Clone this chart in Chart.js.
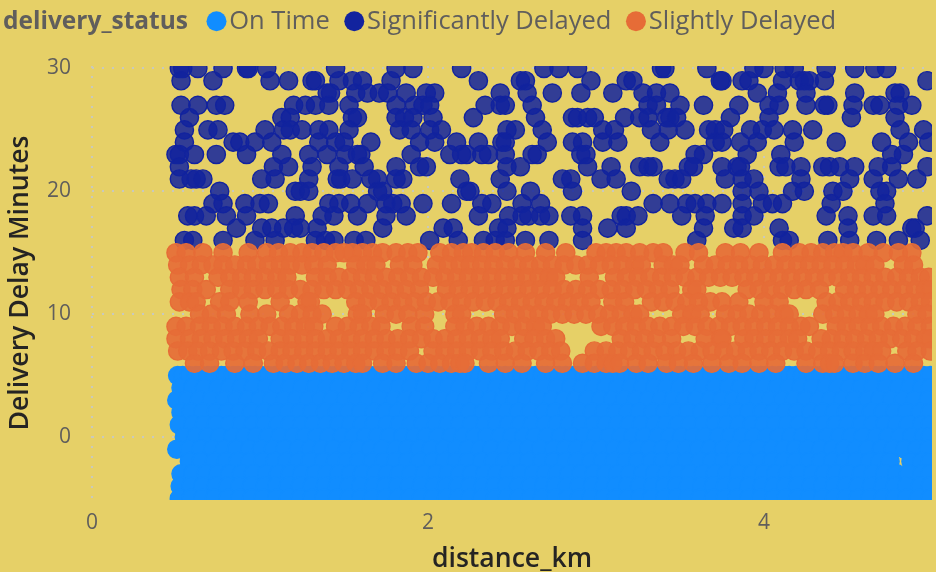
<!DOCTYPE html>
<html><head><meta charset="utf-8">
<style>
html,body{margin:0;padding:0;background:#E6D067;width:936px;height:572px;overflow:hidden}
#wrap{position:relative;width:936px;height:572px}
#ttl{position:absolute;left:3px;top:3px;font:700 24.5px "Open Sans",sans-serif;color:#605E5C;line-height:33px;white-space:nowrap}
</style>
<script src="https://cdn.jsdelivr.net/npm/chart.js@4"></script>
</head><body><div id="wrap"><canvas id="c" width="936" height="572"></canvas><div id="ttl">delivery_status</div></div>
<script>
const legendTitle="delivery_status";
const seriesNames=["On Time","Significantly Delayed","Slightly Delayed"];
const xTitle="distance_km", yTitle="Delivery Delay Minutes";
// Significantly Delayed: distance_km read per delay-minute row
const sd30=[.52,.54,.63,.78,.92,.93,1.04,1.45,1.81,1.91,2.20,2.69,2.78,2.89,3.39,3.41,3.66,3.94,4.0,4.12,4.18,4.37,4.54,4.66,4.73];
const sd29=[.53,.72,1.06,1.17,1.31,1.33,1.47,1.55,1.61,1.78,2.30,2.55,2.58,2.97,3.18,3.22,3.74,3.75,3.87,3.91,4.11,4.21,4.24,4.27,4.36,4.97];
const sd28=[1.40,1.42,1.57,1.64,1.71,1.76,1.87,1.99,2.04,2.43,2.59,2.74,2.91,3.10,3.28,3.36,3.44,3.96,4.08,4.25,4.54,4.78,4.81];
const sd27=[.53,.63,.74,.79,1.20,1.27,1.33,1.41,1.53,1.81,1.92,1.97,2.01,2.34,2.43,2.46,2.62,3.31,3.36,3.50,3.64,3.85,4.03,4.09,4.25,4.36,4.38,4.53,4.65,4.69,4.80,4.88];
const sd26=[.58,1.13,1.18,1.55,1.58,1.81,1.86,1.91,2.03,2.27,2.64,2.86,2.89,2.95,2.99,3.17,3.26,3.31,3.42,3.44,3.48,3.80,4.03,4.52,4.78];
const sd25=[.55,.69,.75,1.03,1.14,1.18,1.25,1.35,1.41,1.53,1.83,1.90,2.01,2.08,2.47,2.52,2.68,3.04,3.11,3.33,3.43,3.53,3.67,3.71,3.76,3.92,3.99,4.06,4.17,4.29,4.81,4.95];
const sd24=[.55,.84,.88,.97,1.07,1.35,1.45,1.50,1.66,1.95,2.04,2.17,2.30,2.44,2.46,2.71,2.86,2.92,3.04,3.13,3.38,3.71,3.75,3.86,3.96,4.18,4.43,4.70,4.86,4.98];
const sd23=[.50,.52,.61,.74,.92,1.13,1.29,1.40,1.51,1.58,1.60,1.90,2.13,2.20,2.23,2.32,2.36,2.46,2.62,2.65,2.91,2.94,3.59,3.64,3.90,4.10,4.76,4.83];
const sd22=[.52,1.08,1.17,1.31,1.47,1.62,1.81,1.95,1.99,2.47,2.55,2.95,3.09,3.26,3.31,3.34,3.55,3.58,3.75,3.84,3.86,4.09,4.13,4.22,4.35,4.39,4.45,4.54,4.68,4.76,4.97];
const sd21=[.52,.59,.62,.66,1.01,1.09,1.29,1.46,1.48,1.55,1.66,1.70,1.81,1.85,2.19,2.43,2.80,2.85,3.03,3.12,3.43,3.47,3.51,3.77,3.87,3.94,4.22,4.51,4.65,4.80,4.91];
const sd20=[.76,1.21,1.24,1.29,1.70,1.73,2.23,2.25,2.47,2.61,2.86,3.21,3.87,3.97,4.17,4.24,4.41,4.47,4.69,4.73];
const sd19=[.72,.78,.91,1.0,1.05,1.41,1.47,1.54,1.64,1.75,1.79,1.84,1.97,2.14,2.32,2.38,2.56,2.67,3.34,3.44,3.54,3.59,3.66,3.75,3.87,3.99,4.05,4.11,4.40,4.72];
const sd18=[.57,.61,.68,.80,.92,1.21,1.37,1.44,1.58,1.75,1.87,2.30,2.48,2.56,2.60,2.67,2.72,2.85,2.92,3.15,3.18,3.25,3.51,3.65,3.87,3.94,4.37,4.50,4.65,4.73,4.97];
const sd17=[.86,1.01,1.07,1.14,1.20,1.24,1.34,1.73,2.09,2.15,2.42,2.47,2.92,3.07,3.18,3.64,3.82,3.87,4.09,4.50,4.88,4.90];
const sd16=[.55,.60,.78,.97,1.09,1.33,1.39,1.44,1.56,1.63,2.01,2.18,2.33,2.40,2.46,2.58,2.72,2.92,3.60,4.11,4.15,4.38,4.51,4.67,4.80,4.93];
// Slightly Delayed
const sl15=[.50,.56,.66,.78,.93,1.04,1.11,1.18,1.25,1.31,1.38,1.45,1.50,1.55,1.61,1.67,1.73,1.81,1.88,1.94,2.07,2.14,2.21,2.26,2.33,2.40,2.48,2.58,2.70,2.82,3.0,3.06,3.12,3.18,3.26,3.34,3.40,3.53,3.61,3.77,3.86,3.97,4.11,4.21,4.28,4.35,4.42,4.47,4.53,4.62,4.71,4.80,4.88];
const sl14=[.51,.58,.65,.72,.78,.85,.92,.98,1.05,1.12,1.18,1.25,1.32,1.40,1.57,1.63,1.69,1.83,1.91,2.05,2.12,2.19,2.25,2.32,2.39,2.46,2.53,2.60,2.67,2.74,2.81,2.88,2.95,3.02,3.09,3.16,3.23,3.27,3.40,3.46,3.50,3.64,3.71,3.78,3.85,3.92,3.99,4.06,4.13,4.20,4.27,4.34,4.41,4.48,4.55,4.60,4.66,4.83,4.89];
const sl13=[.52,.61,.75,.82,.89,.96,1.03,1.10,1.16,1.33,1.40,1.47,1.54,1.61,1.68,1.75,1.82,1.89,1.96,2.03,2.10,2.17,2.24,2.31,2.38,2.45,2.52,2.59,2.66,2.72,2.76,2.96,3.11,3.18,3.25,3.32,3.39,3.46,3.53,3.60,3.67,3.74,3.81,3.88,3.95,4.02,4.09,4.16,4.23,4.30,4.37,4.44,4.51,4.58,4.65,4.72,4.79,4.86,4.93,4.98];
const sl12=[.53,.60,.68,.82,.89,.96,1.03,1.10,1.17,1.24,1.31,1.38,1.45,1.52,1.59,1.66,1.73,1.80,1.87,1.95,2.11,2.18,2.25,2.32,2.39,2.46,2.53,2.60,2.67,2.74,2.81,2.88,2.95,3.02,3.09,3.16,3.23,3.30,3.37,3.44,3.57,3.60,3.90,3.97,4.04,4.11,4.18,4.25,4.33,4.48,4.55,4.62,4.69,4.76,4.83,4.90,4.96,4.99];
const sl11=[.52,.58,.62,.76,.82,.93,1.12,1.28,1.30,1.57,1.64,1.71,1.78,1.85,1.92,1.99,2.06,2.13,2.20,2.27,2.34,2.41,2.48,2.55,2.62,2.69,2.76,2.83,2.90,2.97,3.10,3.17,3.33,3.40,3.47,3.54,3.61,3.68,3.75,3.85,4.0,4.09,4.37,4.44,4.51,4.58,4.65,4.72,4.79,4.86,4.93,4.99];
const sl10=[.64,.71,.80,.94,1.04,1.17,1.24,1.31,1.37,1.58,1.61,1.74,1.81,1.88,1.98,2.16,2.20,2.45,2.52,2.59,2.66,2.73,2.80,2.87,2.94,3.01,3.08,3.15,3.22,3.26,3.51,3.57,3.62,3.77,3.84,3.91,3.98,4.05,4.12,4.15,4.35,4.42,4.49,4.56,4.62,4.66,4.91,4.97];
const sl9=[.50,.56,.64,.71,.78,.85,.92,.99,1.06,1.13,1.20,1.27,1.32,1.45,1.52,1.59,1.66,1.72,1.90,1.98,2.16,2.22,2.29,2.36,2.43,2.50,2.57,2.64,2.68,3.03,3.10,3.17,3.24,3.31,3.38,3.45,3.52,3.59,3.66,3.73,3.80,3.87,3.94,4.01,4.08,4.15,4.22,4.27,4.43,4.49,4.56,4.63,4.70,4.77,4.84,4.91,4.99];
const sl8=[.50,.58,.65,.72,.79,.86,.93,.99,1.12,1.19,1.26,1.33,1.40,1.47,1.54,1.61,1.68,1.75,1.82,1.89,1.96,2.03,2.10,2.17,2.24,2.31,2.38,2.43,2.57,2.63,2.70,2.76,3.15,3.22,3.29,3.36,3.45,3.65,3.74,3.75,3.88,3.94,4.01,4.08,4.15,4.20,4.34,4.40,4.47,4.54,4.61,4.68,4.75,4.82,4.89,4.96,4.99];
const sl7=[.51,.57,.63,.70,.77,.84,.91,.98,1.05,1.12,1.19,1.26,1.33,1.40,1.47,1.54,1.61,1.68,1.75,1.82,1.89,2.03,2.10,2.17,2.24,2.31,2.38,2.45,2.52,2.59,2.66,2.73,2.79,2.99,3.06,3.13,3.20,3.27,3.34,3.41,3.48,3.55,3.62,3.69,3.76,3.83,3.90,3.97,4.04,4.11,4.18,4.25,4.32,4.39,4.46,4.53,4.60,4.65,4.70,4.85,4.91,4.99];
const sl6=[.61,.70,.85,.96,1.08,1.15,1.22,1.29,1.36,1.43,1.50,1.57,1.61,1.73,1.81,1.93,2.0,2.07,2.14,2.19,2.22,2.36,2.46,2.56,2.70,2.80,2.92,2.99,3.06,3.10,3.14,3.24,3.31,3.42,3.49,3.58,3.69,3.79,3.87,3.97,4.07,4.25,4.35,4.39,4.42,4.53,4.60,4.68,4.78,4.89];
// On Time
const ot5=[.51,.54,.58,.62,.65,.69,.73,.77,.80,.84,.87,.91,.94,.97,1.01,1.05,1.09,1.12,1.16,1.19,1.23,1.27,1.30,1.34,1.38,1.41,1.45,1.49,1.52,1.55,1.59,1.63,1.66,1.70,1.74,1.77,1.81,1.85,1.88,1.92,1.95,1.99,2.03,2.06,2.10,2.13,2.17,2.21,2.24,2.28,2.31,2.35,2.39,2.42,2.46,2.50,2.53,2.56,2.60,2.64,2.68,2.71,2.75,2.78,2.82,2.86,2.89,2.93,2.96,3.0,3.04,3.07,3.11,3.15,3.18,3.22,3.25,3.29,3.33,3.36,3.40,3.44,3.47,3.50,3.54,3.58,3.61,3.65,3.69,3.72,3.76,3.80,3.83,3.87,3.90,3.94,3.98,4.01,4.05,4.09,4.12,4.15,4.19,4.23,4.26,4.30,4.34,4.37,4.41,4.45,4.48,4.52,4.55,4.59,4.63,4.66,4.70,4.74,4.77,4.80,4.84,4.88,4.91,4.95,4.99];
const ot4=[.53,.60,.67,.75,.82,.89,.96,1.04,1.11,1.18,1.25,1.33,1.40,1.47,1.54,1.62,1.69,1.76,1.83,1.90,1.98,2.05,2.12,2.19,2.27,2.34,2.41,2.48,2.56,2.63,2.70,2.77,2.85,2.92,2.99,3.06,3.13,3.21,3.28,3.35,3.42,3.50,3.57,3.64,3.71,3.79,3.86,3.93,4.0,4.08,4.15,4.22,4.29,4.37,4.44,4.51,4.58,4.65,4.73,4.80,4.87,4.94,4.99];
const ot3=[.505,.57,.64,.71,.79,.86,.93,1.0,1.07,1.15,1.22,1.29,1.36,1.43,1.51,1.58,1.65,1.72,1.80,1.87,1.94,2.01,2.09,2.16,2.23,2.30,2.37,2.45,2.52,2.59,2.66,2.74,2.81,2.88,2.95,3.03,3.10,3.17,3.24,3.31,3.39,3.46,3.53,3.60,3.68,3.75,3.82,3.89,3.97,4.04,4.11,4.18,4.25,4.33,4.40,4.47,4.54,4.62,4.69,4.76,4.83,4.90,4.98];
const ot2=[.53,.59,.66,.74,.81,.88,.95,1.03,1.10,1.17,1.24,1.31,1.39,1.46,1.53,1.60,1.68,1.75,1.82,1.89,1.96,2.04,2.11,2.18,2.25,2.33,2.40,2.47,2.54,2.61,2.69,2.76,2.83,2.90,2.98,3.05,3.12,3.19,3.26,3.34,3.41,3.48,3.55,3.63,3.70,3.77,3.84,3.91,3.99,4.06,4.13,4.20,4.28,4.35,4.42,4.49,4.56,4.64,4.71,4.78,4.85,4.93,4.99];
const ot1=[.52,.60,.67,.74,.82,.89,.96,1.03,1.11,1.18,1.25,1.32,1.40,1.47,1.54,1.61,1.68,1.76,1.83,1.90,1.97,2.05,2.12,2.19,2.26,2.34,2.41,2.48,2.55,2.62,2.70,2.77,2.84,2.91,2.99,3.06,3.13,3.20,3.27,3.35,3.42,3.49,3.56,3.64,3.71,3.78,3.85,3.93,4.0,4.07,4.14,4.21,4.29,4.36,4.43,4.50,4.58,4.65,4.72,4.79,4.86,4.94,4.99];
const ot0=[.55,.62,.69,.76,.84,.91,.98,1.05,1.12,1.20,1.27,1.34,1.41,1.49,1.56,1.63,1.70,1.77,1.85,1.92,1.99,2.06,2.14,2.21,2.28,2.35,2.43,2.50,2.57,2.64,2.71,2.79,2.86,2.93,3.0,3.08,3.15,3.22,3.29,3.37,3.44,3.51,3.58,3.65,3.73,3.80,3.87,3.94,4.02,4.09,4.16,4.23,4.30,4.38,4.45,4.52,4.59,4.67,4.74,4.81,4.88,4.95,4.99];
const otM1=[.505,.58,.65,.72,.79,.86,.94,1.01,1.08,1.15,1.23,1.30,1.37,1.44,1.52,1.59,1.66,1.73,1.81,1.88,1.95,2.02,2.10,2.17,2.24,2.31,2.38,2.46,2.53,2.60,2.67,2.75,2.82,2.89,2.96,3.03,3.11,3.18,3.25,3.32,3.40,3.47,3.54,3.61,3.68,3.76,3.83,3.90,3.97,4.05,4.12,4.19,4.26,4.34,4.41,4.48,4.55,4.62,4.70,4.77,4.84,4.91,4.98];
const otM2=[.58,.65,.73,.80,.87,.94,1.02,1.09,1.16,1.23,1.30,1.38,1.45,1.52,1.59,1.67,1.74,1.81,1.88,1.95,2.03,2.10,2.17,2.24,2.32,2.39,2.46,2.53,2.60,2.68,2.75,2.82,2.89,2.97,3.04,3.11,3.18,3.25,3.33,3.40,3.47,3.54,3.62,3.69,3.76,3.83,3.90,3.98,4.05,4.12,4.19,4.27,4.34,4.41,4.48,4.55,4.63,4.69,4.75,4.875,4.94,4.99];
const otM3=[.53,.60,.68,.75,.82,.89,.96,1.04,1.11,1.18,1.25,1.33,1.40,1.47,1.54,1.61,1.69,1.76,1.83,1.90,1.98,2.05,2.12,2.19,2.26,2.34,2.41,2.48,2.55,2.63,2.70,2.77,2.84,2.91,2.99,3.06,3.13,3.20,3.28,3.35,3.42,3.49,3.56,3.64,3.71,3.78,3.85,3.93,4.0,4.07,4.14,4.21,4.29,4.36,4.43,4.50,4.58,4.65,4.72,4.79,4.86,4.94,4.99];
const otM4=[.525,.59,.66,.74,.81,.88,.95,1.03,1.10,1.17,1.24,1.31,1.39,1.46,1.53,1.60,1.68,1.75,1.82,1.89,1.96,2.04,2.11,2.18,2.25,2.33,2.40,2.47,2.54,2.61,2.69,2.76,2.83,2.90,2.98,3.05,3.12,3.19,3.26,3.34,3.41,3.48,3.55,3.63,3.70,3.77,3.84,3.91,3.99,4.06,4.13,4.20,4.28,4.35,4.42,4.49,4.56,4.64,4.71,4.78,4.85,4.93,4.99];
const otM5=[.52,.59,.66,.73,.81,.88,.95,1.02,1.10,1.17,1.24,1.31,1.38,1.46,1.53,1.60,1.67,1.75,1.82,1.89,1.96,2.03,2.11,2.18,2.25,2.32,2.40,2.47,2.54,2.61,2.68,2.76,2.83,2.90,2.97,3.05,3.12,3.19,3.26,3.33,3.41,3.48,3.55,3.62,3.70,3.77,3.84,3.91,3.98,4.06,4.13,4.20,4.27,4.35,4.42,4.49,4.56,4.63,4.71,4.78,4.85,4.92,4.99];

const pts=rows=>rows.flatMap(([y,xs])=>xs.map(x=>({x,y})));
const onTime=pts([[5,ot5],[4,ot4],[3,ot3],[2,ot2],[1,ot1],[0,ot0],[-1,otM1],[-2,otM2],[-3,otM3],[-4,otM4],[-5,otM5]]);
const sigDelayed=pts([[30,sd30],[29,sd29],[28,sd28],[27,sd27],[26,sd26],[25,sd25],[24,sd24],[23,sd23],[22,sd22],[21,sd21],[20,sd20],[19,sd19],[18,sd18],[17,sd17],[16,sd16]]);
const slDelayed=pts([[15,sl15],[14,sl14],[13,sl13],[12,sl12],[11,sl11],[10,sl10],[9,sl9],[8,sl8],[7,sl7],[6,sl6]]);

const BLUE="#118DFF",NAVY="#12239E",ORANGE="#E66C37";
const solid=[BLUE,NAVY,ORANGE];
const FONT='"Open Sans",sans-serif';
const GRID="#C9C9BC";
const ds=(label,data,fill,line,order)=>({label,data,backgroundColor:fill,borderColor:line,borderWidth:1.4,pointRadius:9.1,clip:0,order});
const moveLegend={id:"moveLegend",afterLayout(c){c.legend.left=192;c.legend.top=-16;}};
new Chart(document.getElementById("c"),{
 type:"scatter",
 plugins:[moveLegend],
 data:{datasets:[
  ds(seriesNames[0],onTime,BLUE,BLUE,3),
  ds(seriesNames[1],sigDelayed,"rgba(18,35,158,.85)",NAVY,2),
  ds(seriesNames[2],slDelayed,"rgba(230,108,55,.92)",ORANGE,1)]},
 options:{responsive:false,animation:false,devicePixelRatio:1,
  layout:{autoPadding:false,padding:{left:0,right:4,top:6,bottom:0}},
  plugins:{tooltip:{enabled:false},
   legend:{position:"top",align:"start",
    labels:{usePointStyle:true,pointStyle:"circle",boxWidth:.01,boxHeight:14.14,padding:24.5,color:"#605E5C",font:{family:FONT,size:25.5},
     generateLabels(c){return Chart.defaults.plugins.legend.labels.generateLabels(c).sort((a,b)=>a.datasetIndex-b.datasetIndex).map(l=>({...l,fillStyle:solid[l.datasetIndex],strokeStyle:solid[l.datasetIndex],lineWidth:0,pointStyle:"circle"}));}}}},
  scales:{
   x:{type:"linear",min:0,max:5,
    afterFit(s){s.height=72;s.paddingLeft=0;s.paddingRight=0;},
    grid:{color:GRID,lineWidth:2,drawTicks:false},border:{display:false,dash:[2,8]},
    ticks:{stepSize:2,includeBounds:false,padding:10,color:"#605E5C",maxRotation:0,font:{family:FONT,size:21}},
    title:{display:true,text:xTitle,color:"#252423",padding:{top:0,bottom:-3},font:{family:FONT,size:26.6,weight:"600"}}},
   y:{type:"linear",min:-5.13,max:30.2,
    afterFit(s){s.width=92;s.paddingTop=0;s.paddingBottom=0;},
    grid:{color:GRID,lineWidth:2,drawTicks:false},border:{display:false,dash:[2,8]},
    ticks:{stepSize:10,includeBounds:false,padding:21,color:"#605E5C",font:{family:FONT,size:21}},
    title:{display:true,text:yTitle,color:"#252423",padding:{top:4,bottom:0},font:{family:FONT,size:26.6,weight:"600"}}}
  }}
});
</script></body></html>
